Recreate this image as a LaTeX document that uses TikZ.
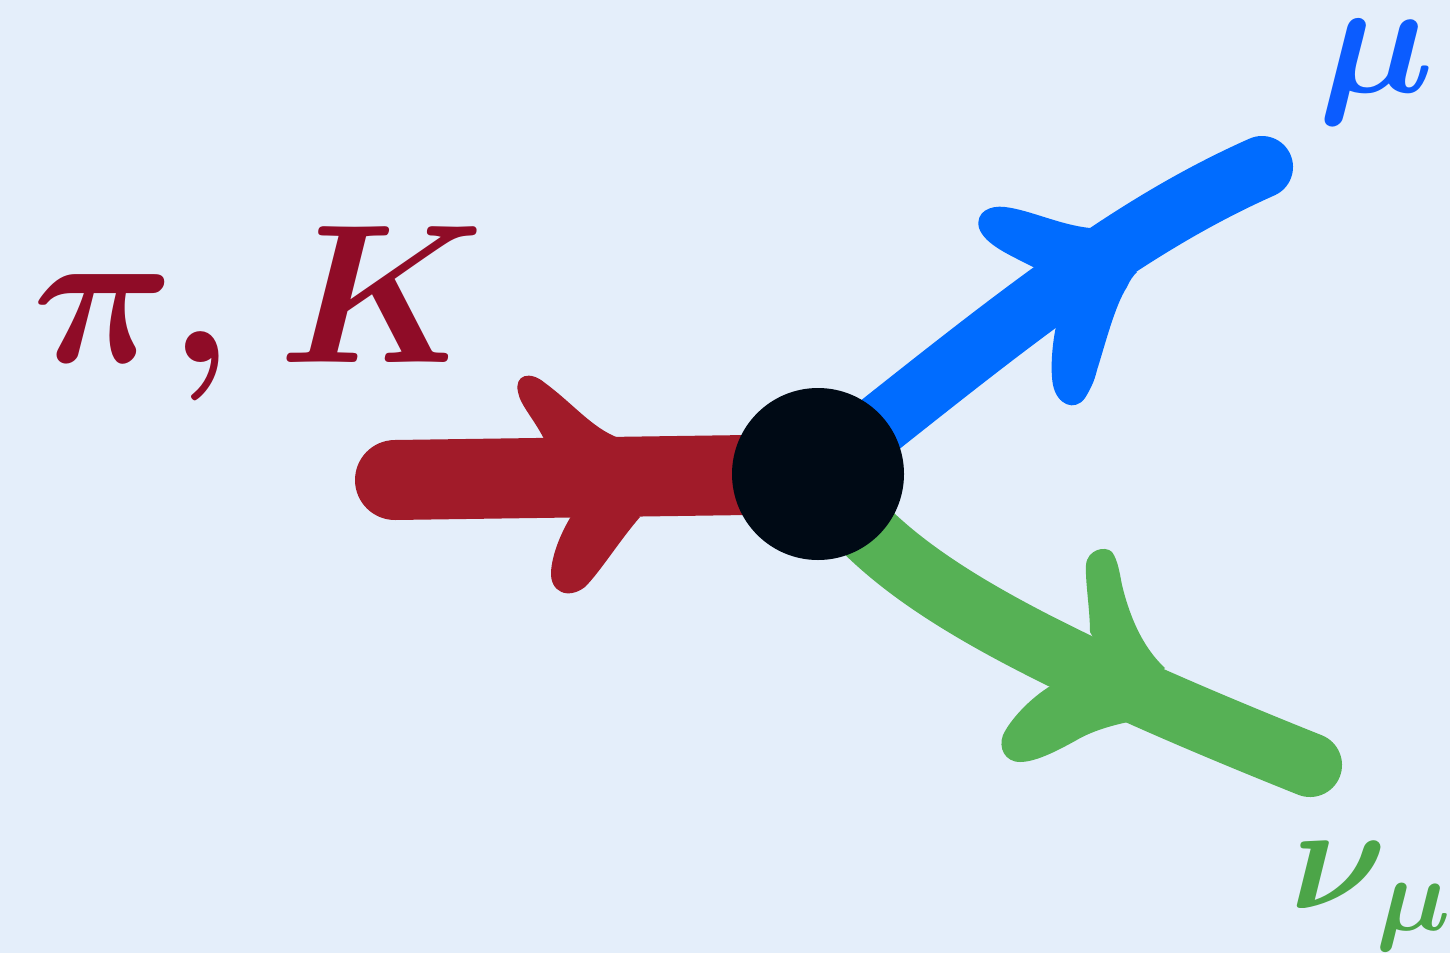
\RequirePackage{fix-cm}
\documentclass[tikz,border=0pt]{standalone}
\definecolor{bgcol}{HTML}{E4EEFA}
\definecolor{redline}{HTML}{A11B29}
\definecolor{redtext}{HTML}{8F0C27}
\definecolor{blueline}{HTML}{006CFF}
\definecolor{bluetext}{HTML}{0B5CFF}
\definecolor{greenline}{HTML}{56B155}
\definecolor{greentext}{HTML}{4CA548}
\definecolor{blobcol}{HTML}{000A15}
\newcommand\mesonlabel{{\fontsize{198}{200}\selectfont\boldmath$\pi\mkern-0.4mu,\mkern0.6mu K$}}
\newcommand\muonlabel{{\fontsize{164}{170}\selectfont\boldmath$\mu$}}
\newcommand\nulabel{{\fontsize{150}{155}\selectfont\boldmath$\nu_\mu$}}
\begin{document}
\begin{tikzpicture}[x=1pt,y=-1pt,
  leg/.style={line width=#1, line cap=round},
  vertex/.style={circle, fill=blobcol, minimum size=172pt, inner sep=0},
  lbl/.style={anchor=base west, inner sep=0}]
\fill[bgcol] (0,0) rectangle (1450,953);
\useasboundingbox (0,0) rectangle (1450,953);

\coordinate (vc) at (818,474);
\coordinate (pin) at (395,480);
\coordinate (muend) at (1262,167);
\coordinate (nuend) at (1310,765);

% incoming meson
\draw[leg=80pt, redline] (pin) -- (vc);
\fill[redline] (545,441) .. controls (535,420) and (520,405) .. (518,392)
  .. controls (514,375) and (530,370) .. (545,383)
  .. controls (575,405) and (595,432) .. (625,440) -- (600,470) -- cycle;
\fill[redline] (570,518) .. controls (560,535) and (552,555) .. (551,572)
  .. controls (550,592) and (568,600) .. (585,587)
  .. controls (600,572) and (620,540) .. (640,517) -- (600,480) -- cycle;

% outgoing muon
\draw[leg=62pt, blueline] (vc) .. controls (1000,330) and (1120,230) .. (muend);
\fill[blueline] (1035,268) .. controls (1010,255) and (985,245) .. (979,228)
  .. controls (975,212) and (990,205) .. (1005,207)
  .. controls (1030,210) and (1060,225) .. (1090,228) -- (1100,260) -- cycle;
\fill[blueline] (1058,318) .. controls (1052,340) and (1050,370) .. (1053,385)
  .. controls (1057,405) and (1075,412) .. (1085,398)
  .. controls (1093,385) and (1095,378) .. (1097,370)
  .. controls (1105,345) and (1115,305) .. (1127,287)
  .. controls (1130,280) and (1133,276) .. (1137,272) -- (1095,270) -- cycle;

% outgoing neutrino
\draw[leg=64pt, greenline] (vc) .. controls (880,560) and (960,625) .. (nuend);
\fill[greenline] (1090,632) .. controls (1090,610) and (1085,580) .. (1086,565)
  .. controls (1087,550) and (1105,545) .. (1112,552)
  .. controls (1118,560) and (1120,575) .. (1122,585)
  .. controls (1128,610) and (1140,645) .. (1165,668) -- (1130,700) -- cycle;
\fill[greenline] (1128,722) .. controls (1100,728) and (1085,735) .. (1075,741)
  .. controls (1055,752) and (1035,762) .. (1020,762)
  .. controls (1005,762) and (998,748) .. (1003,735)
  .. controls (1010,720) and (1030,698) .. (1052,685) -- (1100,690) -- cycle;

% vertex
\node[vertex] (v) at (vc) {};

% labels
\node[lbl, text=redtext] (pk) at (32,362) {\mesonlabel};
\node[lbl, text=bluetext] (mu) at (1318,92) {\muonlabel};
\node[lbl, text=greentext] (nu) at (1290,908) {\nulabel};
\end{tikzpicture}
\end{document}
